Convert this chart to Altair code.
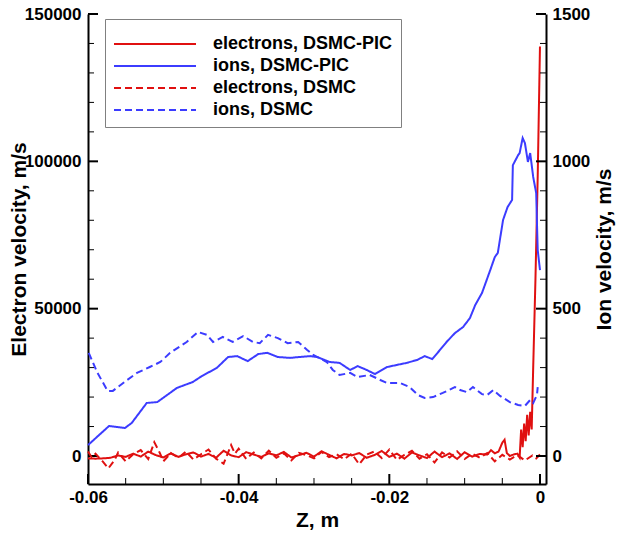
import altair as alt
import pandas as pd

# ---------------- data ----------------
SERIES = ["electrons, DSMC-PIC", "ions, DSMC-PIC", "electrons, DSMC", "ions, DSMC"]

# electrons, DSMC-PIC (m/s)
z_e_pic = [-0.060, -0.059, -0.058, -0.057, -0.056, -0.055, -0.054, -0.053, -0.052, -0.051,
           -0.050, -0.049, -0.048, -0.047, -0.046, -0.045, -0.044, -0.043, -0.042, -0.041,
           -0.040, -0.039, -0.038, -0.037, -0.036, -0.035, -0.034, -0.033, -0.032, -0.031,
           -0.030, -0.029, -0.028, -0.027, -0.026, -0.025, -0.024, -0.023, -0.022, -0.021,
           -0.020, -0.019, -0.018, -0.017, -0.016, -0.015, -0.014, -0.013, -0.012, -0.011,
           -0.010, -0.009, -0.008, -0.007, -0.0065, -0.006, -0.0055, -0.0050, -0.0047, -0.0044,
           -0.0040, -0.0035, -0.0030, -0.0027, -0.0025, -0.0023, -0.0021, -0.0019, -0.0017, -0.0015,
           -0.0013, -0.0011, -0.0009, -0.0006, -0.0003, 0.0]
v_e_pic = [-800, -900, -800, -600, 200, -300, 800, -200, 1500, 300,
           -500, 900, -300, 600, 1200, -200, 700, -600, 1800, 200,
           -400, 1300, 500, -300, 900, 200, 1400, -500, 300, 1100,
           -200, 1600, 400, -800, 700, 200, 1000, -600, 300, 1700,
           -300, 800, -900, 1200, 200, -700, 1500, -400, 900, -1000,
           1300, -200, 700, 500, 2000, 900, 1500, 4500, 5500, 1000,
           0, 500, 800, -500, 9000, 3000, 11000, 5000, 14000, 7000,
           15000, 9000, 30000, 60000, 95000, 139000]

# electrons, DSMC (m/s)
z_e_dsmc = [-0.060, -0.0595, -0.059, -0.058, -0.0573, -0.0565, -0.056, -0.055, -0.054, -0.053,
            -0.052, -0.0512, -0.0505, -0.050, -0.049, -0.048, -0.047, -0.046, -0.045, -0.044,
            -0.043, -0.042, -0.041, -0.0405, -0.040, -0.039, -0.038, -0.037, -0.036, -0.035,
            -0.034, -0.033, -0.032, -0.031, -0.030, -0.029, -0.028, -0.027, -0.026, -0.025,
            -0.024, -0.023, -0.022, -0.021, -0.020, -0.019, -0.018, -0.017, -0.016, -0.015,
            -0.014, -0.013, -0.012, -0.011, -0.010, -0.009, -0.008, -0.007, -0.006, -0.005,
            -0.004, -0.003, -0.002, -0.001, -0.0005, 0.0]
v_e_dsmc = [1500, -500, 800, -2000, -4200, -1500, 1200, -1800, 600, 2000,
            -1000, 4700, 1200, -1800, 1000, -600, 1500, -1200, 600, 2200,
            -900, -2600, 3700, 800, 2500, -1000, 1200, -800, 1800, -600,
            900, -1500, 1100, 300, -800, 1400, -400, 600, -1100, 800,
            -2800, 500, 1500, -700, 2200, -1300, 400, 1800, -900, 600,
            -2200, 1200, -500, 1600, -1000, 800, -600, 1000, -1800, 400,
            -1200, 300, -1500, 200, -800, 500]

# ions, DSMC-PIC (m/s)
z_i_pic = [-0.0600, -0.0572, -0.0551, -0.0542, -0.0522, -0.0508, -0.0482, -0.0461, -0.0449, -0.0429,
           -0.0414, -0.0402, -0.0388, -0.0374, -0.0362, -0.0348, -0.0332, -0.0319, -0.0305, -0.0296,
           -0.0279, -0.0266, -0.0252, -0.0242, -0.0230, -0.0219, -0.0203, -0.0190, -0.0177, -0.0163,
           -0.0153, -0.0143, -0.0135, -0.0124, -0.0113, -0.0102, -0.0093, -0.0086, -0.0077, -0.0066,
           -0.0060, -0.0056, -0.0049, -0.0043, -0.0037, -0.0036, -0.0029, -0.0027, -0.0023, -0.0020,
           -0.0016, -0.0013, -0.0009, -0.0005, -0.0004, -0.0003, 0.0]
v_i_pic = [37, 102, 95, 112, 180, 183, 231, 251, 271, 299,
           336, 339, 322, 346, 350, 336, 333, 336, 339, 336,
           319, 316, 292, 305, 292, 278, 302, 309, 316, 326,
           339, 329, 353, 387, 417, 438, 468, 512, 553, 631,
           675, 689, 801, 845, 869, 987, 1021, 1028, 1079, 1062,
           998, 1028, 947, 892, 791, 699, 631]

# ions, DSMC (m/s)
z_i_dsmc = [-0.0599, -0.0588, -0.0574, -0.0567, -0.0548, -0.0535, -0.0518, -0.0504, -0.0491, -0.0469,
            -0.0454, -0.0442, -0.0434, -0.0421, -0.0408, -0.0394, -0.0381, -0.0372, -0.0361, -0.0348,
            -0.0335, -0.0321, -0.0309, -0.0301, -0.0283, -0.0275, -0.0266, -0.0252, -0.0242, -0.0226,
            -0.0212, -0.0203, -0.0186, -0.0173, -0.0162, -0.0153, -0.0142, -0.0129, -0.0113, -0.0106,
            -0.0097, -0.0089, -0.0077, -0.0070, -0.0062, -0.0053, -0.0040, -0.0029, -0.0020, -0.0013,
            -0.0009, -0.0004, -0.0003]
v_i_dsmc = [350, 285, 221, 221, 258, 282, 302, 319, 350, 387,
            421, 411, 387, 404, 387, 407, 387, 383, 411, 400,
            383, 387, 360, 343, 319, 292, 275, 282, 268, 275,
            258, 248, 248, 234, 207, 197, 200, 214, 234, 224,
            217, 234, 210, 207, 224, 204, 183, 173, 170, 190,
            180, 207, 234]

# axis ticks
x_major = [-0.06, -0.04, -0.02, 0.0]
x_minor = [-0.055, -0.05, -0.045, -0.035, -0.03, -0.025, -0.015, -0.01, -0.005]
e_major = [0, 50000, 100000, 150000]
e_minor = [10000, 20000, 30000, 40000, 60000, 70000, 80000, 90000, 110000, 120000, 130000, 140000]
i_major = [0, 500, 1000, 1500]
i_minor = [100, 200, 300, 400, 600, 700, 800, 900, 1100, 1200, 1300, 1400]

# ---------------- styling ----------------
W, H = 458, 470
FONT = "Liberation Sans"
RED = "#e01010"
BLUE = "#3c3cff"
MAJ, MIN = 10, 6

elec = pd.concat([
    pd.DataFrame({"z": z_e_pic, "v": v_e_pic, "series": SERIES[0]}),
    pd.DataFrame({"z": z_e_dsmc, "v": v_e_dsmc, "series": SERIES[2]}),
])
ions = pd.concat([
    pd.DataFrame({"z": z_i_pic, "v": v_i_pic, "series": SERIES[1]}),
    pd.DataFrame({"z": z_i_dsmc, "v": v_i_dsmc, "series": SERIES[3]}),
])

x_scale = alt.Scale(domain=[-0.06, 0.0008], nice=False, zero=False)
e_scale = alt.Scale(domain=[-9500, 150000], nice=False, zero=False)
i_scale = alt.Scale(domain=[-95, 1500], nice=False, zero=False)
color_scale = alt.Scale(domain=SERIES, range=[RED, BLUE, RED, BLUE])
dash_scale = alt.Scale(domain=SERIES, range=[[1, 0], [1, 0], [7, 4], [7, 4]])

legend = alt.Legend(
    title=" ", titleFontSize=5, titlePadding=3,
    orient="none", legendX=17, legendY=5,
    symbolType="stroke", symbolSize=6724, symbolStrokeWidth=2,
    clipHeight=18, rowPadding=4, labelOffset=16, padding=8,
    labelFont=FONT, labelFontSize=18, labelFontWeight="bold", labelColor="black",
    fillColor="white", strokeColor="#808080", labelLimit=400,
)

axis_common = dict(
    ticks=False, tickSize=0, grid=False, labelFlush=False,
    domainColor="black", domainWidth=2,
    labelFont=FONT, labelFontSize=17, labelFontWeight="bold", labelColor="black",
    titleFont=FONT, titleFontSize=21, titleFontWeight="bold", titleColor="black",
)

x_axis = alt.Axis(values=x_major, labelExpr="toString(datum.value)", labelPadding=5,
                  title="Z, m", titlePadding=4, **axis_common)
left_axis = alt.Axis(values=e_major, format="d", labelPadding=7, orient="left",
                     title="Electron velocity, m/s", titleAngle=270, titleX=-69, titleY=H / 2,
                     titleBaseline="middle", titleAlign="center", **axis_common)
right_axis = alt.Axis(values=i_major, format="d", labelPadding=6, orient="right",
                      title="Ion velocity, m/s", titleAngle=270, titleX=58, titleY=H / 2,
                      titleBaseline="middle", titleAlign="center", **axis_common)

enc_common = dict(
    color=alt.Color("series:N", scale=color_scale, legend=legend),
    strokeDash=alt.StrokeDash("series:N", scale=dash_scale, legend=legend),
)

X = alt.X("z:Q", scale=x_scale, axis=x_axis)
Y_E = alt.Y("v:Q", scale=e_scale, axis=left_axis)
Y_I = alt.Y("v:Q", scale=i_scale, axis=right_axis)

elec_lines = alt.Chart(elec).mark_line(strokeWidth=2).encode(x=X, y=Y_E, **enc_common)
ion_lines = alt.Chart(ions).mark_line(strokeWidth=2).encode(x=X, y=Y_I, **enc_common)


def x_ticks(vals, length, width):
    # inward-pointing ticks along the bottom axis
    return alt.Chart(pd.DataFrame({"z": vals})).mark_rule(color="black", strokeWidth=width).encode(
        x=X, y=alt.value(H), y2=alt.value(H - length),
    )


def e_ticks(vals, length, width):
    # inward-pointing ticks along the left axis
    return alt.Chart(pd.DataFrame({"v": vals})).mark_rule(color="black", strokeWidth=width).encode(
        y=Y_E, x=alt.value(0), x2=alt.value(length),
    )


def i_ticks(vals, length, width):
    # inward-pointing ticks along the right axis
    return alt.Chart(pd.DataFrame({"v": vals})).mark_rule(color="black", strokeWidth=width).encode(
        y=Y_I, x=alt.value(W), x2=alt.value(W - length),
    )


left_group = alt.layer(
    e_ticks(e_minor, MIN, 1), e_ticks(e_major, MAJ, 2),
    x_ticks(x_minor, MIN, 1), x_ticks(x_major, MAJ, 2),
    elec_lines,
)
right_group = alt.layer(
    i_ticks(i_minor, MIN, 1), i_ticks(i_major, MAJ, 2),
    ion_lines,
)

chart = (
    alt.layer(left_group, right_group)
    .resolve_scale(y="independent")
    .properties(
        width=W, height=H,
        autosize=alt.AutoSizeParams(type="none"),
        padding={"left": 88, "top": 14, "right": 75, "bottom": 49},
    )
    .configure_view(stroke=None)
)

chart.save("out.html", embed_options={"renderer": "svg", "actions": False})
